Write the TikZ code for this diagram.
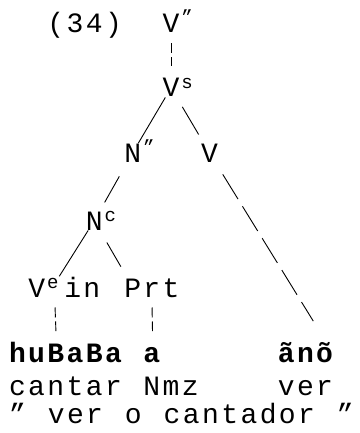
\documentclass[tikz,border=0pt]{standalone}
\usepackage{fontspec}
\setmainfont{Liberation Mono}[LetterSpace=8.6, WordSpace={1.1428,0,0}]
\newcommand{\sups}[1]{\rlap{\smash{\raisebox{9pt}{\fontsize{19}{19}\selectfont\hspace{2pt}#1}}}}
\tikzset{
  branch/.style={shorten <=11pt, shorten >=10pt},
  tick/.style={dash pattern=on 10pt off 4pt, shorten <=10.5pt, shorten >=31pt},
  longbranch/.style={dash pattern=on 29pt off 8.5pt, shorten <=14pt, shorten >=24pt}
}
\begin{document}
\begin{tikzpicture}[x=1pt, y=-1pt, inner sep=0pt, anchor=base west,
  font=\fontsize{28}{33}\selectfont, line width=0.9pt]
\useasboundingbox (0,0) rectangle (359,433);

% nodes
\node (num) at (47, 33) {(34)};
\node (Vtop) at (162.2, 33) {V\sups{"}};
\node (Vs) at (162.2, 97) {V\sups{s}};
\node (Nbar) at (123.8, 162) {N\sups{"}};
\node (Vr) at (200.6, 162) {V};
\node (Nc) at (85.4, 230) {N\sups{c}};
\node (Ve) at (27.8, 297) {V\makebox[19.2pt][l]{\sups{e}}in};
\node (Prt) at (123.8, 297) {Prt};

\node (huBaBa) at (8.6, 362) {\textbf{huBaBa}};
\node (a) at (143, 362) {\textbf{a}};
\node (ano) at (277.4, 362) {\textbf{ãnõ}};
\node (cantar) at (8.6, 395) {cantar};
\node (Nmz) at (143, 395) {Nmz};
\node (ver) at (277.4, 395) {ver};
\node (gloss) at (8.6, 423) {" ver o cantador "};

\draw [tick] (Vtop.base) -- (Vs.base);
\draw [branch] (Vs) -- (Nbar) (Vs) -- (Vr);
\draw [branch, shorten <=16pt] (Nbar) -- (Nc);
\draw [branch, shorten <=14pt, shorten >=13pt]
    (Nc) -- (Ve.115)
    (Nc) -- (Prt.158);
\draw [longbranch] (Vr) -- ([xshift=19.2pt]ano.north);
\draw [tick] ([xshift=-9.6pt]Ve.base) -- ([xshift=-9.6pt]huBaBa.base);
\draw [tick] (Prt.base) -- (a.base);
\end{tikzpicture}
\end{document}
